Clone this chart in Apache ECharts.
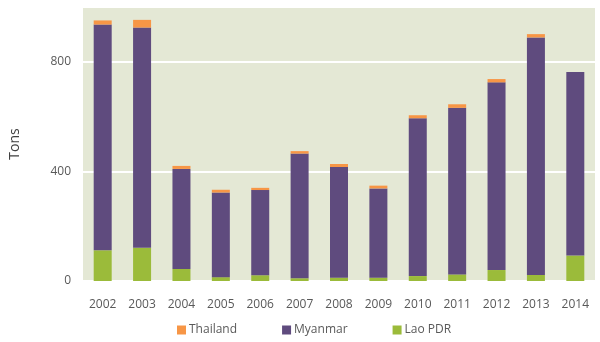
<!DOCTYPE html>
<html>
<head>
<meta charset="utf-8">
<script src="https://cdn.jsdelivr.net/npm/echarts@6/dist/echarts.min.js"></script>
<style>html,body{margin:0;padding:0;background:#fff}#c{width:600px;height:342px}</style>
</head>
<body>
<div id="c"></div>
<script>
var years = ['2002','2003','2004','2005','2006','2007','2008','2009','2010','2011','2012','2013','2014'];
var laoPDR   = [112, 121, 44, 14, 21, 10, 12, 12, 18, 24, 40, 22, 93];
var myanmar  = [824, 804, 365, 309, 311, 455, 404, 326, 576, 608, 685, 867, 670];
var thailand = [15, 28, 11, 10, 8, 9, 11, 10, 11, 13, 12, 12, 0];
var yTicks = [0, 400, 800];

var chart = echarts.init(document.getElementById('c'), null, {renderer: 'canvas'});
var font = 'Open Sans';
chart.setOption({
  animation: false,
  backgroundColor: '#ffffff',
  grid: {left: 50, right: 5, top: 7, bottom: 61, backgroundColor: '#E4E8D5', show: true, borderWidth: 0},
  legend: {
    top: 324, left: 177, padding: 0, itemWidth: 9, itemHeight: 9, itemGap: 45,
    icon: 'rect',
    textStyle: {fontFamily: font, fontSize: 12, color: '#595959', padding: [0,0,0,-2]},
    data: ['Thailand', 'Myanmar', 'Lao PDR']
  },
  xAxis: {
    type: 'category', data: years,
    axisLine: {show: false}, axisTick: {show: false},
    axisLabel: {fontFamily: font, fontSize: 12, color: '#595959', margin: 18}
  },
  yAxis: {
    type: 'value', min: 0, max: 1000, interval: 400,
    name: 'Tons', nameLocation: 'middle', nameGap: 31,
    nameTextStyle: {fontFamily: font, fontSize: 14, color: '#404040', padding: [0,0,30,0]},
    axisLine: {show: false}, axisTick: {show: false},
    axisLabel: {fontFamily: font, fontSize: 12, color: '#595959', margin: 12,
      formatter: function(v){ return yTicks.indexOf(v) >= 0 ? v : ''; }},
    splitLine: {lineStyle: {color: '#ffffff', width: 2}}
  },
  series: [
    {name: 'Lao PDR', type: 'bar', stack: 't', data: laoPDR, barWidth: 18, itemStyle: {color: '#9BBB3A'}},
    {name: 'Myanmar', type: 'bar', stack: 't', data: myanmar, barWidth: 18, itemStyle: {color: '#5F4B7E'}},
    {name: 'Thailand', type: 'bar', stack: 't', data: thailand, barWidth: 18, itemStyle: {color: '#F79646'}}
  ]
});
</script>
</body>
</html>
